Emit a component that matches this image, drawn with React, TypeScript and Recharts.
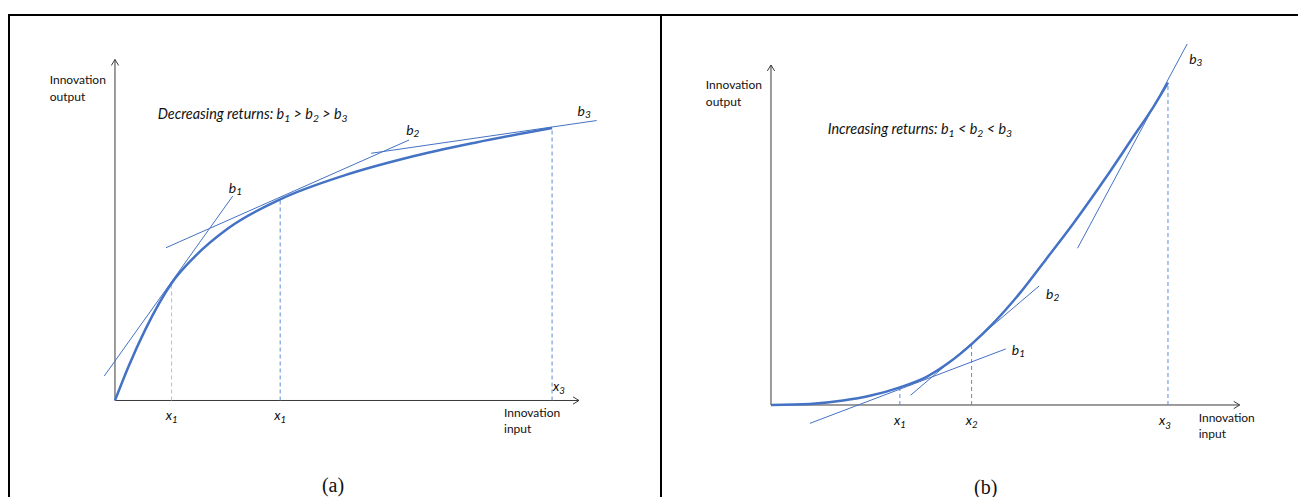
import React from 'react';
import { LineChart, Line, XAxis, YAxis, ReferenceLine, ReferenceDot } from 'recharts';

const BLUE = '#4472C4';
const GUIDE = '#5B8CD6';
const GUIDE_SOFT = '#A9C2E8';
const AXIS = '#3a3a3a';
const INK = '#111';
const SANS = 'Lato, "Open Sans", sans-serif';
const SERIF = '"Liberation Serif", "DejaVu Serif", serif';

// (a) decreasing returns: concave response of output to input
const decInput = [0, 2.9, 6.5, 12.2, 17.2, 24.4, 35.6, 49.6, 63.0, 77.6, 94.2];
const decOutput = [0, 9.9, 20.7, 34.4, 42.2, 50.5, 59.0, 66.1, 71.2, 75.6, 79.9];
const decTangentX = [[-2.3, 25.4], [11.0, 63.4], [55.2, 103.8]];
const decTangentY = [[7.2, 60.0], [44.8, 76.4], [72.5, 82.1]];
const decMarks = [12.2, 35.6, 94.2];
const decMarkLevels = [34.4, 59.0, 79.9];
const decTicks = ['x_1', 'x_1', 'x_3'];

// (b) increasing returns: convex response
const incInput = [0, 8.3, 15.4, 21.1, 27.5, 33.2, 38.2, 42.8, 47.4, 53.1, 58.7, 64.5, 71.6, 77.3, 81.6, 84.7];
const incOutput = [0, 0.3, 1.3, 2.7, 5.2, 8.3, 12.7, 17.9, 24.0, 32.9, 42.9, 53.4, 67.2, 78.9, 87.7, 94.8];
const incTangentX = [[8.3, 50.1], [29.8, 57.2], [65.4, 88.8]];
const incTangentY = [[-5.4, 16.5], [2.9, 35.0], [46.1, 106.2]];
const incMarks = [27.5, 42.8, 84.7];
const incMarkLevels = [5.2, 17.9, 94.8];
const incTicks = ['x_1', 'x_2', 'x_3'];

const slopeNames = ['b_1', 'b_2', 'b_3'];

const toPoints = (xs: number[], ys: number[]) => xs.map((x, i) => ({ x, y: ys[i] }));

// turns "b_1" into b with a subscript 1
function rich(str: string, size: number) {
  const out: React.ReactNode[] = [];
  const shift = size * 0.32;
  const re = /_(\w)/g;
  let last = 0;
  let pending = 0;
  let k = 0;
  let m: RegExpExecArray | null;
  while ((m = re.exec(str))) {
    if (m.index > last) {
      out.push(<tspan key={k++} dy={pending}>{str.slice(last, m.index)}</tspan>);
      pending = 0;
    }
    out.push(<tspan key={k++} dy={pending + shift} fontSize={size * 0.72}>{m[1]}</tspan>);
    pending = -shift;
    last = re.lastIndex;
  }
  if (last < str.length) out.push(<tspan key={k++} dy={pending}>{str.slice(last)}</tspan>);
  return out;
}

type NoteOpts = {
  dx?: number;
  dy?: number;
  size?: number;
  italic?: boolean;
  anchor?: 'start' | 'middle' | 'end';
  family?: string;
};

// text pinned to a data point; drawn as the dot's shape
function note(key: string, x: number, y: number, str: string, o: NoteOpts = {}) {
  const size = o.size ?? 12;
  return (
    <ReferenceDot
      key={key}
      x={x}
      y={y}
      r={0}
      ifOverflow="visible"
      shape={(p: any) => (
        <text
          x={p.cx + (o.dx ?? 0)}
          y={p.cy + (o.dy ?? 0)}
          fontSize={size}
          fontFamily={o.family ?? SANS}
          fontStyle={o.italic ? 'italic' : 'normal'}
          fill={INK}
          textAnchor={o.anchor ?? 'start'}
          dominantBaseline="central"
        >
          {rich(str, size)}
        </text>
      )}
    />
  );
}

function AxisArrow(p: any) {
  const { x1, y1, x2, y2 } = p;
  const ang = Math.atan2(y2 - y1, x2 - x1);
  const len = 7;
  const spread = 0.55;
  const a = [x2 - len * Math.cos(ang - spread), y2 - len * Math.sin(ang - spread)];
  const b = [x2 - len * Math.cos(ang + spread), y2 - len * Math.sin(ang + spread)];
  return (
    <g>
      <line x1={x1} y1={y1} x2={x2} y2={y2} stroke={AXIS} strokeWidth={1} />
      <polyline points={`${a[0]},${a[1]} ${x2},${y2} ${b[0]},${b[1]}`} fill="none" stroke={AXIS} strokeWidth={1} />
    </g>
  );
}

function axes() {
  return [
    <ReferenceLine key="ax" segment={[{ x: 0, y: 0 }, { x: 100, y: 0 }]} shape={AxisArrow} ifOverflow="visible" />,
    <ReferenceLine key="ay" segment={[{ x: 0, y: 0 }, { x: 0, y: 100 }]} shape={AxisArrow} ifOverflow="visible" />,
  ];
}

function tangents(xs: number[][], ys: number[][]) {
  return xs.map((tx, i) => (
    <Line
      key={`t${i}`}
      data={toPoints(tx, ys[i])}
      dataKey="y"
      type="linear"
      stroke={BLUE}
      strokeWidth={1}
      dot={false}
      activeDot={false}
      isAnimationActive={false}
    />
  ));
}

function guides(marks: number[], levels: number[], colors: string[]) {
  return marks.map((m, i) => (
    <ReferenceLine
      key={`g${i}`}
      segment={[{ x: m, y: 0 }, { x: m, y: levels[i] }]}
      stroke={colors[i]}
      strokeWidth={1}
      strokeDasharray="4 3"
      ifOverflow="visible"
    />
  ));
}

const TITLE = 14.4;
const SLOPE = 14;
const TICK = 13.5;

function DecreasingPanel() {
  return (
    <LineChart width={660} height={497} margin={{ top: 0, right: 0, bottom: 0, left: 0 }}>
      <XAxis type="number" dataKey="x" domain={[-24.78, 117.46]} hide allowDataOverflow />
      <YAxis type="number" domain={[-28.3, 117.45]} hide allowDataOverflow />
      {axes()}
      {guides(decMarks, decMarkLevels, [GUIDE_SOFT, GUIDE, GUIDE])}
      {tangents(decTangentX, decTangentY)}
      <Line
        data={toPoints(decInput, decOutput)}
        dataKey="y"
        type="monotone"
        stroke={BLUE}
        strokeWidth={2.5}
        dot={false}
        activeDot={false}
        isAnimationActive={false}
      />
      {note('yl1', -14.07, 94.3, 'Innovation')}
      {note('yl2', -14.07, 89.3, 'output')}
      {note('xl1', 83.84, 0, 'Innovation', { dy: 12 })}
      {note('xl2', 83.84, 0, 'input', { dy: 28 })}
      {note('title', 9.2, 84.3, 'Decreasing returns: b_1 > b_2 > b_3', { italic: true, size: TITLE })}
      {note('b1', decTangentX[0][1], decTangentY[0][1], slopeNames[0], { dx: -4, dy: -9, italic: true, size: SLOPE })}
      {note('b2', decTangentX[1][1], decTangentY[1][1], slopeNames[1], { dx: -3, dy: -11, italic: true, size: SLOPE })}
      {note('b3', decTangentX[2][1], decTangentY[2][1], slopeNames[2], { dx: -19, dy: -11, italic: true, size: SLOPE })}
      {note('k1', decMarks[0], 0, decTicks[0], { dy: 14.5, anchor: 'middle', italic: true, size: TICK })}
      {note('k2', decMarks[1], 0, decTicks[1], { dy: 14.5, anchor: 'middle', italic: true, size: TICK })}
      {note('k3', decMarks[2], 0, decTicks[2], { dx: 1, dy: -14.5, italic: true, size: TICK })}
      {note('cap', 47, 0, '(a)', { dy: 84.5, anchor: 'middle', family: SERIF, size: 20 })}
    </LineChart>
  );
}

function IncreasingPanel() {
  return (
    <LineChart width={638} height={497} margin={{ top: 0, right: 0, bottom: 0, left: 0 }}>
      <XAxis type="number" dataKey="x" domain={[-23.68, 112.44]} hide allowDataOverflow />
      <YAxis type="number" domain={[-27.06, 119.12]} hide allowDataOverflow />
      {axes()}
      {guides(incMarks, incMarkLevels, [GUIDE, GUIDE, GUIDE])}
      {tangents(incTangentX, incTangentY)}
      <Line
        data={toPoints(incInput, incOutput)}
        dataKey="y"
        type="monotone"
        stroke={BLUE}
        strokeWidth={2.5}
        dot={false}
        activeDot={false}
        isAnimationActive={false}
      />
      {note('yl1', -13.9, 94.4, 'Innovation')}
      {note('yl2', -13.9, 89.5, 'output')}
      {note('xl1', 91.25, 0, 'Innovation', { dy: 12.3 })}
      {note('xl2', 91.25, 0, 'input', { dy: 27.7 })}
      {note('title', 12.1, 81.5, 'Increasing returns: b_1 < b_2 < b_3', { italic: true, size: TITLE })}
      {note('b1', incTangentX[0][1], incTangentY[0][1], slopeNames[0], { dx: 6, dy: 0, italic: true, size: SLOPE })}
      {note('b2', incTangentX[1][1], incTangentY[1][1], slopeNames[1], { dx: 7, dy: 7, italic: true, size: SLOPE })}
      {note('b3', incTangentX[2][1], incTangentY[2][1], slopeNames[2], { dx: 2, dy: 14, italic: true, size: SLOPE })}
      {note('k1', incMarks[0], 0, incTicks[0], { dy: 15, anchor: 'middle', italic: true, size: TICK })}
      {note('k2', incMarks[1], 0, incTicks[1], { dy: 15, anchor: 'middle', italic: true, size: TICK })}
      {note('k3', incMarks[2], 0, incTicks[2], { dx: -3, dy: 15.5, anchor: 'middle', italic: true, size: TICK })}
      {note('cap', 45.8, 0, '(b)', { dy: 82, anchor: 'middle', family: SERIF, size: 20 })}
    </LineChart>
  );
}

export default function App() {
  const rule = { position: 'absolute' as const, background: '#000' };
  return (
    <div style={{ position: 'absolute', left: 0, top: 0, width: 1298, height: 497, background: '#fff', overflow: 'hidden' }}>
      <div style={{ position: 'absolute', left: 0, top: 0 }}>
        <DecreasingPanel />
      </div>
      <div style={{ position: 'absolute', left: 660, top: 0 }}>
        <IncreasingPanel />
      </div>
      <div style={{ ...rule, left: 8, top: 14, width: 1290, height: 2 }} />
      <div style={{ ...rule, left: 8, top: 14, width: 2, height: 483 }} />
      <div style={{ ...rule, left: 660, top: 14, width: 2, height: 483 }} />
    </div>
  );
}
